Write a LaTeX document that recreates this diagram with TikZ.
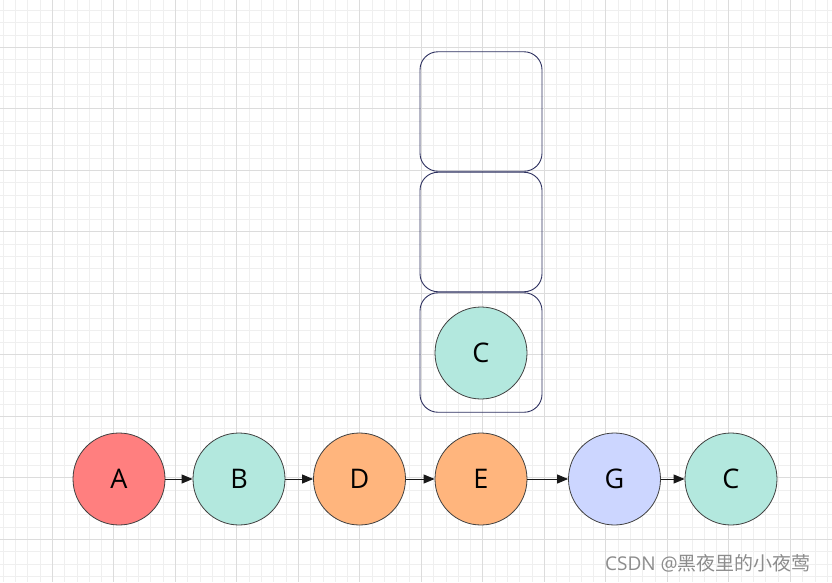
\documentclass[tikz,border=0pt]{standalone}
\usepackage{fontspec}
\setmainfont{Open Sans}
\newfontfamily\cjkfont{Noto Sans CJK SC}
\usetikzlibrary{arrows.meta, positioning}
\definecolor{gdMinor}{HTML}{EFEFEF}
\definecolor{gdMajor}{HTML}{DCDCDC}
\definecolor{ndRed}{HTML}{FF7F7F}
\definecolor{ndTeal}{HTML}{B3E8DE}
\definecolor{ndOrange}{HTML}{FFB57D}
\definecolor{ndBlue}{HTML}{CCD6FF}
\definecolor{bxNavy}{HTML}{2E3160}

\begin{document}
\begin{tikzpicture}[x=1pt, y=-1pt,
  vertex/.style={circle, draw=black!75, line width=0.8pt, minimum size=92pt,
                 inner sep=0pt, font=\fontsize{27}{27}\selectfont},
  slot/.style={draw=bxNavy, line width=0.9pt, rounded corners=18pt,
               minimum width=122pt, minimum height=119.5pt, inner sep=0pt},
  link/.style={draw=black!90, line width=1pt, -{Triangle[length=11pt, width=9pt]}}]
  \useasboundingbox (0,0) rectangle (832,582);
  \fill[white] (0,0) rectangle (832,582);
  % background grid
  \foreach \k in {0,...,67}
    \draw[gdMinor, line width=0.8pt] ({3.1+12.3*\k},0) -- ({3.1+12.3*\k},582);
  \foreach \k in {0,...,46}
    \draw[gdMinor, line width=0.8pt] (0,{10.4+12.3*\k}) -- (832,{10.4+12.3*\k});
  \foreach \k in {0,...,13}
    \draw[gdMajor, line width=0.8pt] ({-9.2+61.5*\k},0) -- ({-9.2+61.5*\k},582);
  \foreach \k in {0,...,9}
    \draw[gdMajor, line width=0.8pt] (0,{-14.2+61.5*\k}) -- (832,{-14.2+61.5*\k});

  % stack
  \node[slot] (s1) at (481,111.5) {};
  \node[slot] (s2) at (481,232) {};
  \node[slot] (s3) at (481,352.5) {};
  \node[vertex, fill=ndTeal] (top) at (481,353) {C};

  % chain
  \node[vertex, fill=ndRed]    (a)  at (119,479)   {A};
  \node[vertex, fill=ndTeal]   (b)  at (239,479)   {B};
  \node[vertex, fill=ndOrange] (d)  at (359.5,479) {D};
  \node[vertex, fill=ndOrange] (e)  at (481,479)   {E};
  \node[vertex, fill=ndBlue]   (g)  at (614.5,479) {G};
  \node[vertex, fill=ndTeal]   (c2) at (731,479)   {C};
  \draw[link] (a) -- (b);
  \draw[link] (b) -- (d);
  \draw[link] (d) -- (e);
  \draw[link] (e) -- (g);
  \draw[link] (g) -- (c2);

  \node[anchor=west, inner sep=0pt, text=black!45, font=\fontsize{19}{19}\selectfont]
    (mark) at (605,563) {CSDN @{\cjkfont 黑夜里的小夜莺}};
\end{tikzpicture}
\end{document}
